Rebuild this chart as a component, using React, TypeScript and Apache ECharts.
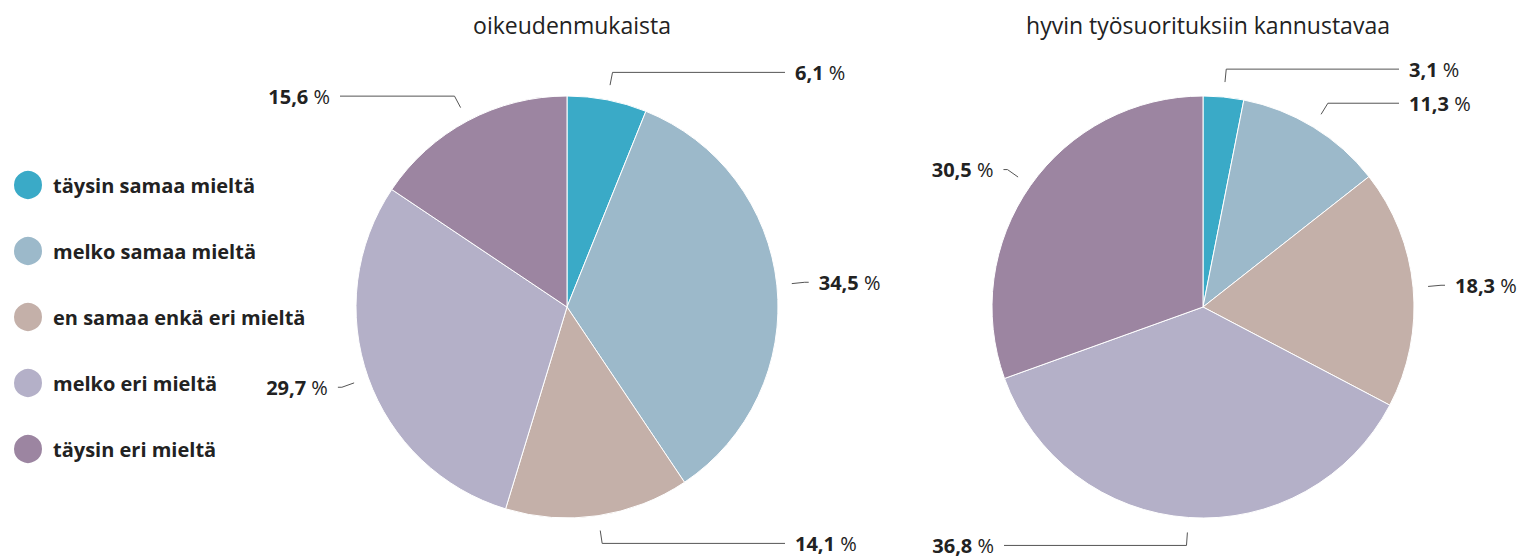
import { useEffect, useRef } from 'react';
import * as echarts from 'echarts';

const categories = [
  'täysin samaa mieltä',
  'melko samaa mieltä',
  'en samaa enkä eri mieltä',
  'melko eri mieltä',
  'täysin eri mieltä',
];
const colors = ['#3aaac7', '#9cb9ca', '#c4b0a9', '#b4b0c8', '#9c85a1'];
const fairValues = [6.1, 34.5, 14.1, 29.7, 15.6];
const motivatingValues = [3.1, 11.3, 18.3, 36.8, 30.5];
const titles = ['oikeudenmukaista', 'hyvin työsuorituksiin kannustavaa'];

const FONT = '"Open Sans", sans-serif';
const TEXT = '#222222';

function makeLayout(cx: number, cy: number, r: number, colRight: number, colLeft: number) {
  return (params: any) => {
    const pts = params.labelLinePoints;
    if (!pts) return {};
    const ex = pts[0][0] - cx;
    const ey = pts[0][1] - cy;
    const len = Math.hypot(ex, ey) || 1;
    const dx = ex / len;
    const dy = ey / len;
    const p0 = [cx + dx * (r + 15), cy + dy * (r + 15)];
    const p1 = [cx + dx * (r + 28), cy + dy * (r + 28)];
    const right = dx >= 0;
    let end: number;
    let tx: number;
    let align: string;
    if (right) {
      end = Math.max(colRight - 12, p1[0] + 4);
      tx = end + 10;
      align = 'left';
    } else {
      end = Math.min(colLeft + 10, p1[0] - 4);
      tx = end - 10;
      align = 'right';
    }
    return {
      x: tx,
      y: p1[1],
      align,
      verticalAlign: 'middle',
      labelLinePoints: [p0, p1, [end, p1[1]]],
    };
  };
}

function fmt(v: number) {
  return v.toFixed(1).replace('.', ',');
}

function pieSeries(values: number[], cx: number, colRight: number, colLeft: number) {
  const cy = 307;
  const r = 211;
  return {
    type: 'pie',
    center: [cx, cy],
    radius: r,
    startAngle: 90,
    avoidLabelOverlap: false,
    silent: true,
    itemStyle: { borderColor: '#ffffff', borderWidth: 1 },
    emphasis: { disabled: true },
    label: {
      show: true,
      position: 'outside',
      formatter: (p: any) => `{v|${fmt(p.value)}}{u| %}`,
      rich: {
        v: { fontFamily: FONT, fontSize: 20, lineHeight: 22, fontWeight: 'bold', color: TEXT },
        u: { fontFamily: FONT, fontSize: 20, lineHeight: 22, fontWeight: 'normal', color: TEXT },
      },
    },
    labelLine: {
      show: true,
      length: 15,
      length2: 10,
      lineStyle: { color: '#555555', width: 1 },
    },
    labelLayout: makeLayout(cx, cy, r, colRight, colLeft),
    data: categories.map((name, i) => ({ name, value: values[i] })),
  };
}

export default function App() {
  const ref = useRef<HTMLDivElement>(null);
  useEffect(() => {
    if (!ref.current) return;
    const chart = echarts.init(ref.current, undefined, { renderer: 'svg' });
    const titleStyle = { fontFamily: FONT, fontSize: 23, fontWeight: 'normal', color: TEXT };
    chart.setOption({
      animation: false,
      color: colors,
      title: [
        { text: titles[0], left: 567, top: 8, textAlign: 'center', textStyle: titleStyle },
        { text: titles[1], left: 1203, top: 8, textAlign: 'center', textStyle: titleStyle },
      ],
      legend: {
        orient: 'vertical',
        left: 7,
        top: 164,
        icon: 'circle',
        itemWidth: 30,
        itemHeight: 30,
        itemGap: 34,
        selectedMode: false,
        data: categories,
        textStyle: {
          fontFamily: FONT,
          fontSize: 20,
          fontWeight: 'bold',
          color: TEXT,
          padding: [0, 0, 0, 5],
        },
      },
      series: [
        pieSeries(fairValues, 567, 797, 330),
        pieSeries(motivatingValues, 1203, 1411, 994),
      ],
    });
    return () => chart.dispose();
  }, []);
  return (
    <div
      ref={ref}
      style={{ position: 'absolute', left: 0, top: 0, width: 1524, height: 559 }}
    />
  );
}
